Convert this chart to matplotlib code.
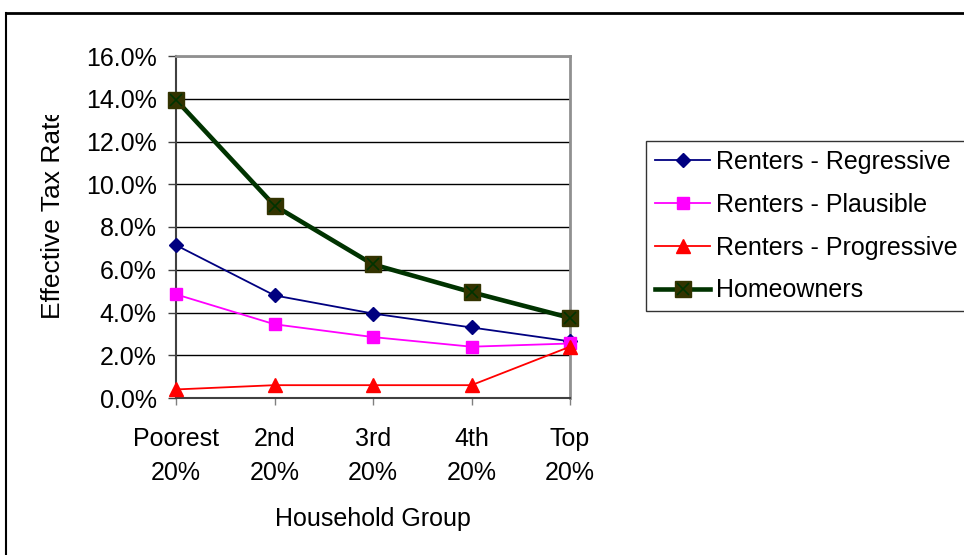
import matplotlib
matplotlib.use("Agg")
import matplotlib.pyplot as plt
from matplotlib.lines import Line2D
from matplotlib.transforms import Bbox

plt.rcParams['font.family'] = ['Liberation Sans', 'DejaVu Sans']

groups = ['Poorest\n20%', '2nd\n20%', '3rd\n20%', '4th\n20%', 'Top\n20%']
regressive = [7.15, 4.8, 3.95, 3.3, 2.65]
plausible = [4.85, 3.45, 2.85, 2.4, 2.55]
progressive = [0.4, 0.6, 0.6, 0.6, 2.4]
homeowners = [13.95, 9.0, 6.25, 4.95, 3.75]
yticks = [0, 2, 4, 6, 8, 10, 12, 14, 16]

W, H = 964, 555
fig = plt.figure(figsize=(9.64, 5.55), dpi=100)
ax = fig.add_axes([176 / W, 1 - 398 / H, (570 - 176) / W, (398 - 56) / H])

x = list(range(len(groups)))
fs = 18

styles = [
    dict(color='#000080', lw=1.3, marker='D', ms=7, mfc='#000080', mec='#000080'),
    dict(color='#FF00FF', lw=1.3, marker='s', ms=8, mfc='#FF00FF', mec='#FF00FF'),
    dict(color='#FF0000', lw=1.3, marker='^', ms=9.5, mfc='#FF0000', mec='#FF0000'),
]
home_style = dict(color='#003300', lw=3.3, marker='s', ms=11, mfc='#333300', mec='#333300')
home_x = dict(ls='none', marker='x', ms=8.5, mew=1.2, color='#003300')

ax.plot(x, regressive, zorder=4, clip_on=False, **styles[0])
ax.plot(x, plausible, zorder=4, clip_on=False, **styles[1])
ax.plot(x, progressive, zorder=4, clip_on=False, **styles[2])
ax.plot(x, homeowners, zorder=5, clip_on=False, **home_style)
ax.plot(x, homeowners, zorder=6, clip_on=False, **home_x)

ax.set_xlim(0, len(groups) - 1)
ax.set_ylim(0, 16)
ax.set_yticks(yticks)
ax.set_yticklabels(['%.1f%%' % v for v in yticks], fontsize=fs)
ax.set_xticks(x)
ax.set_xticklabels(groups, fontsize=fs, linespacing=1.5)
ax.tick_params(axis='y', direction='out', length=6, width=1, color='#404040', pad=8)
ax.tick_params(axis='x', direction='out', length=5, width=1, color='#808080', pad=16)
ax.grid(axis='y', color='black', lw=1)
ax.set_axisbelow(True)
for s in ['left', 'bottom']:
    ax.spines[s].set_color('#404040')
    ax.spines[s].set_linewidth(1.5)
for s in ['top', 'right']:
    ax.spines[s].set_color('#909090')
    ax.spines[s].set_linewidth(2)

ax.set_xlabel('Household Group', fontsize=fs, labelpad=16)

# y label is clipped at the top in the original
yl = fig.text(53 / W, 1 - 213 / H, 'Effective Tax Rate', rotation=90,
              ha='center', va='center', fontsize=19)
yl.set_clip_box(Bbox([[0, 0], [200, H - 115]]))
yl.set_clip_on(True)

handles = [
    Line2D([], [], **styles[0]),
    Line2D([], [], **styles[1]),
    Line2D([], [], **styles[2]),
    (Line2D([], [], **home_style), Line2D([], [], **home_x)),
]
labels = ['Renters - Regressive', 'Renters - Plausible', 'Renters - Progressive', 'Homeowners']
leg = fig.legend(handles, labels, loc='upper left',
                 bbox_to_anchor=(646 / W, 1 - 141 / H), fontsize=fs,
                 frameon=True, fancybox=False, edgecolor='black',
                 handlelength=2.2, handletextpad=0.25, borderpad=0.36,
                 labelspacing=0.75, borderaxespad=0)
leg.get_frame().set_linewidth(1)

# outer chart frame, cut off at right and bottom
fig.add_artist(Line2D([6 / W, 1], [1 - 13 / H, 1 - 13 / H], color='black', lw=2,
                      transform=fig.transFigure))
fig.add_artist(Line2D([6 / W, 6 / W], [0, 1 - 13 / H], color='black', lw=1.5,
                      transform=fig.transFigure))

fig.savefig('out.png', dpi=100)
